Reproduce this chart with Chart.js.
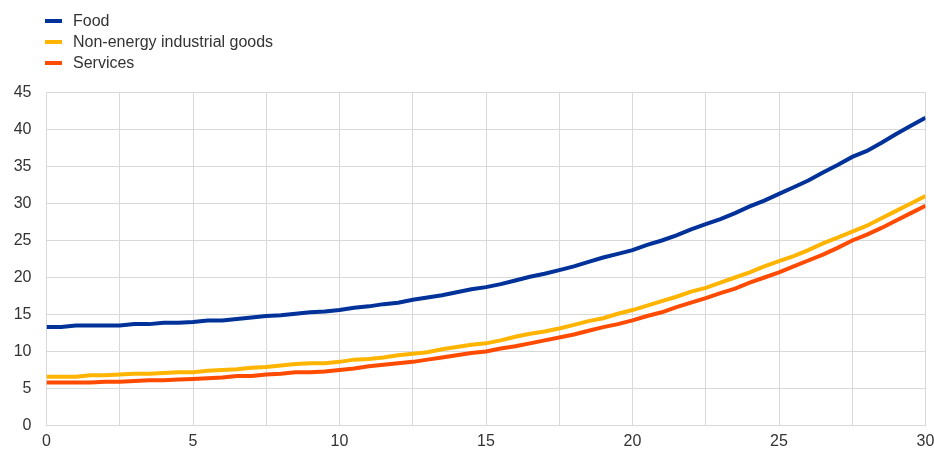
<!DOCTYPE html>
<html>
<head>
<meta charset="utf-8">
<script src="https://cdn.jsdelivr.net/npm/chart.js@4/dist/chart.umd.min.js"></script>
<style>
  html, body { margin: 0; padding: 0; background: #fff; }
  #wrap { position: relative; width: 934px; height: 450px; }
  #legend { position: absolute; left: 45px; top: 10px; font: 16px "Liberation Sans", Arial, sans-serif; color: #333; }
  #legend div { height: 21px; line-height: 21px; white-space: nowrap; }
  #legend span { display: inline-block; width: 17px; height: 4px; vertical-align: middle; margin-right: 11px; position: relative; top: -1px; }
</style>
</head>
<body>
<div id="wrap">
  <canvas id="chart" width="934" height="450"></canvas>
  <div id="legend"></div>
</div>
<script>
// ---- data ----
const xValues = [];
for (let i = 0; i <= 60; i++) xValues.push(i / 2);

const seriesNames = ['Food', 'Non-energy industrial goods', 'Services'];
const seriesColors = ['#003299', '#FFB400', '#FF4B00'];

const food = [
  13.3, 13.3, 13.5, 13.5, 13.5, 13.5, 13.7, 13.7, 13.9, 13.9,
  14.0, 14.2, 14.2, 14.4, 14.6, 14.8, 14.9, 15.1, 15.3, 15.4,
  15.6, 15.9, 16.1, 16.4, 16.6, 17.0, 17.3, 17.6, 18.0, 18.4,
  18.7, 19.1, 19.6, 20.1, 20.5, 21.0, 21.5, 22.1, 22.7, 23.2,
  23.7, 24.4, 25.0, 25.7, 26.5, 27.2, 27.9, 28.7, 29.6, 30.4,
  31.3, 32.2, 33.1, 34.2, 35.2, 36.3, 37.1, 38.2, 39.4, 40.5,
  41.6
];
const industrialGoods = [
  6.6, 6.6, 6.6, 6.8, 6.8, 6.9, 7.0, 7.0, 7.1, 7.2,
  7.2, 7.4, 7.5, 7.6, 7.8, 7.9, 8.1, 8.3, 8.4, 8.4,
  8.6, 8.9, 9.0, 9.2, 9.5, 9.7, 9.9, 10.3, 10.6, 10.9,
  11.1, 11.5, 12.0, 12.4, 12.7, 13.1, 13.6, 14.1, 14.5, 15.1,
  15.6, 16.2, 16.8, 17.4, 18.1, 18.6, 19.3, 20.0, 20.7, 21.5,
  22.2, 22.9, 23.7, 24.6, 25.4, 26.2, 27.0, 28.0, 29.0, 30.0,
  31.0
];
const services = [
  5.8, 5.8, 5.8, 5.8, 5.9, 5.9, 6.0, 6.1, 6.1, 6.2,
  6.3, 6.4, 6.5, 6.7, 6.7, 6.9, 7.0, 7.2, 7.2, 7.3,
  7.5, 7.7, 8.0, 8.2, 8.4, 8.6, 8.9, 9.2, 9.5, 9.8,
  10.0, 10.4, 10.7, 11.1, 11.5, 11.9, 12.3, 12.8, 13.3, 13.7,
  14.2, 14.8, 15.3, 16.0, 16.6, 17.2, 17.9, 18.5, 19.3, 20.0,
  20.7, 21.5, 22.3, 23.1, 24.0, 25.0, 25.8, 26.7, 27.7, 28.7,
  29.7
];

const xMin = 0, xMax = 30, xGridStep = 2.5, xLabelStep = 5;
const yMin = 0, yMax = 45, yStep = 5;

// ---- build chart ----
const allSeries = [food, industrialGoods, services];
const datasets = allSeries.map((vals, k) => ({
  label: seriesNames[k],
  data: vals.map((v, i) => ({ x: xValues[i], y: v })),
  borderColor: seriesColors[k],
  backgroundColor: seriesColors[k],
  borderWidth: 4,
  pointRadius: 0,
  tension: 0,
  fill: false
}));

// food drawn on top, then services, goods underneath
datasets[0].order = 0;
datasets[1].order = 2;
datasets[2].order = 1;

const font = { family: '"Liberation Sans", Arial, sans-serif', size: 16 };
const gridColor = '#d9d9d9';

new Chart(document.getElementById('chart'), {
  type: 'line',
  data: { datasets },
  options: {
    responsive: false,
    animation: false,
    layout: { padding: { top: 92.5, right: 8.5, left: 0, bottom: 0 } },
    plugins: { legend: { display: false }, tooltip: { enabled: false } },
    scales: {
      x: {
        type: 'linear',
        min: xMin, max: xMax,
        afterBuildTicks: (axis) => {
          const t = [];
          for (let v = xMin; v <= xMax + 1e-9; v += xGridStep) t.push({ value: v });
          axis.ticks = t;
        },
        ticks: {
          autoSkip: false,
          maxRotation: 0,
          color: '#333',
          font,
          padding: 6,
          callback: (v) => (Math.abs(v % xLabelStep) < 1e-9 ? String(v) : '')
        },
        grid: { color: gridColor, lineWidth: 1, drawTicks: false },
        border: { color: gridColor },
        afterFit: (axis) => { axis.height = 24.5; axis.paddingRight = 0; axis.paddingTop = 0; }
      },
      y: {
        min: yMin, max: yMax,
        ticks: { stepSize: yStep, color: '#333', font, padding: 15 },
        grid: { color: gridColor, lineWidth: 1, drawTicks: false },
        border: { color: gridColor },
        afterFit: (axis) => { axis.width = 46.5; axis.paddingTop = 0; axis.paddingBottom = 0; }
      }
    }
  }
});

// ---- legend ----
const legend = document.getElementById('legend');
seriesNames.forEach((name, k) => {
  const row = document.createElement('div');
  const sw = document.createElement('span');
  sw.style.background = seriesColors[k];
  row.appendChild(sw);
  row.appendChild(document.createTextNode(name));
  legend.appendChild(row);
});
</script>
</body>
</html>
